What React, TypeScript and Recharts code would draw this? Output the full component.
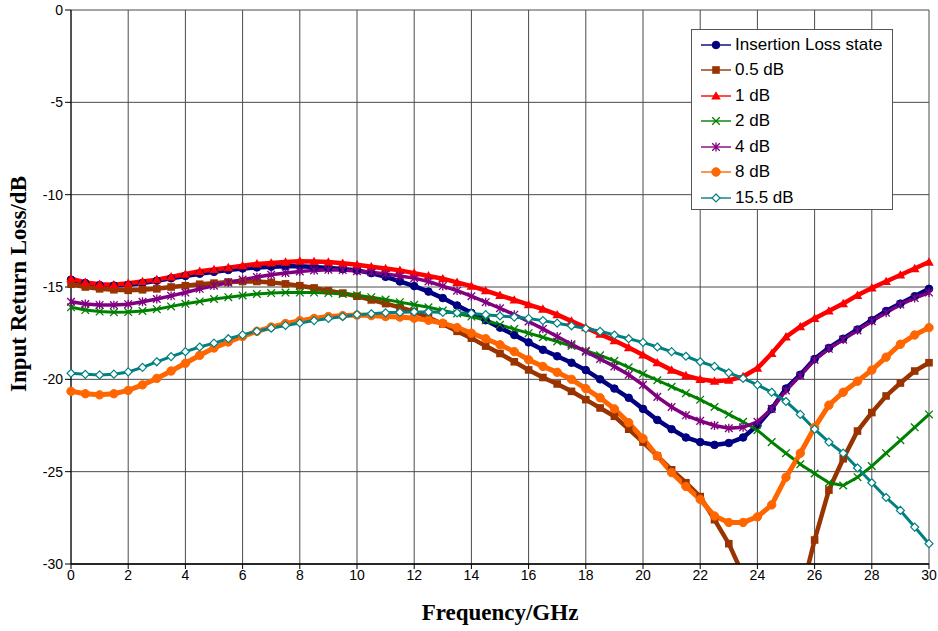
import React from 'react';
import { LineChart, Line, XAxis, YAxis, CartesianGrid, Legend } from 'recharts';

// frequency points, GHz
const freq = [
  0, 0.5, 1, 1.5, 2, 2.5, 3, 3.5, 4, 4.5,
  5, 5.5, 6, 6.5, 7, 7.5, 8, 8.5, 9, 9.5,
  10, 10.5, 11, 11.5, 12, 12.5, 13, 13.5, 14, 14.5,
  15, 15.5, 16, 16.5, 17, 17.5, 18, 18.5, 19, 19.5,
  20, 20.5, 21, 21.5, 22, 22.5, 23, 23.5, 24, 24.5,
  25, 25.5, 26, 26.5, 27, 27.5, 28, 28.5, 29, 29.5,
  30,
];

// input return loss, dB
const insertionLoss = [
  -14.6, -14.78, -14.9, -14.92, -14.88, -14.78, -14.66, -14.53, -14.4, -14.28,
  -14.18, -14.08, -14.0, -13.94, -13.9, -13.88, -13.88, -13.92, -13.97, -14.03,
  -14.1, -14.25, -14.45, -14.7, -14.95, -15.25, -15.6, -16.0, -16.4, -16.8,
  -17.2, -17.6, -18.0, -18.4, -18.75, -19.1, -19.5, -20.0, -20.5, -21.0,
  -21.6, -22.2, -22.7, -23.15, -23.4, -23.55, -23.45, -23.15, -22.5, -21.6,
  -20.5, -19.75, -18.9, -18.3, -17.8, -17.3, -16.8, -16.3, -15.9, -15.5,
  -15.1,
];
const att05 = [
  -14.85, -15.0, -15.1, -15.15, -15.18, -15.15, -15.1, -15.0, -14.93, -14.85,
  -14.79, -14.73, -14.7, -14.7, -14.75, -14.83, -14.93, -15.05, -15.2, -15.33,
  -15.5, -15.7, -15.9, -16.1, -16.33, -16.65, -17.0, -17.4, -17.77, -18.2,
  -18.6, -19.05, -19.49, -19.9, -20.25, -20.65, -21.1, -21.55, -22.0, -22.7,
  -23.4, -24.15, -24.9, -25.6, -26.35, -27.6, -28.9, -30.6, -33.5, -36,
  -35, -31.8, -28.7, -26.0, -24.3, -22.8, -21.8, -20.9, -20.2, -19.55,
  -19.1,
];
const att1 = [
  -14.55, -14.75, -14.85, -14.88, -14.8, -14.7, -14.6, -14.45, -14.3, -14.15,
  -14.05, -13.95, -13.85, -13.75, -13.7, -13.65, -13.6, -13.62, -13.65, -13.72,
  -13.8, -13.9, -14.0, -14.1, -14.25, -14.4, -14.55, -14.75, -14.95, -15.2,
  -15.45, -15.7, -15.95, -16.2, -16.5, -16.85, -17.2, -17.55, -17.9, -18.28,
  -18.68, -19.1, -19.5, -19.8, -20.0, -20.1, -20.05, -19.85, -19.4, -18.6,
  -17.7, -17.15, -16.7, -16.3, -15.9, -15.45, -15.05, -14.7, -14.35, -14.0,
  -13.65,
];
const att2 = [
  -16.1, -16.25, -16.33, -16.37, -16.36, -16.3, -16.2, -16.05, -15.91, -15.78,
  -15.65, -15.55, -15.46, -15.38, -15.33, -15.3, -15.3, -15.3, -15.33, -15.38,
  -15.45, -15.55, -15.68, -15.82, -15.96, -16.1, -16.27, -16.43, -16.6, -16.8,
  -17.05, -17.28, -17.5, -17.72, -17.95, -18.2, -18.45, -18.7, -19.0, -19.35,
  -19.7, -20.05, -20.4, -20.75, -21.1, -21.5, -21.9, -22.3, -22.75, -23.4,
  -24.0, -24.6, -25.1, -25.6, -25.75, -25.3, -24.7, -24.0, -23.3, -22.6,
  -21.9,
];
const att4 = [
  -15.8, -15.92, -15.97, -15.98, -15.93, -15.8, -15.65, -15.48, -15.3, -15.1,
  -14.93, -14.76, -14.6, -14.46, -14.34, -14.24, -14.16, -14.1, -14.07, -14.08,
  -14.14, -14.2, -14.3, -14.4, -14.52, -14.7, -14.95, -15.2, -15.5, -15.82,
  -16.15, -16.5, -16.87, -17.27, -17.68, -18.1, -18.5, -18.9, -19.3, -19.75,
  -20.3, -20.95, -21.5, -21.95, -22.25, -22.5, -22.65, -22.6, -22.3, -21.6,
  -20.6, -19.8, -18.95, -18.35, -17.85, -17.35, -16.85, -16.4, -15.95, -15.6,
  -15.3,
];
const att8 = [
  -20.65, -20.78, -20.84, -20.78, -20.6, -20.3, -19.95, -19.55, -19.13, -18.7,
  -18.3, -17.98, -17.68, -17.4, -17.17, -16.98, -16.82, -16.7, -16.6, -16.55,
  -16.52, -16.55, -16.6, -16.63, -16.69, -16.8, -16.96, -17.2, -17.5, -17.8,
  -18.13, -18.5, -18.94, -19.3, -19.62, -20.0, -20.5, -21.0, -21.6, -22.35,
  -23.2, -24.15, -25.05, -25.8, -26.5, -27.4, -27.75, -27.75, -27.45, -26.8,
  -25.3, -24.0, -22.6, -21.4, -20.7, -20.1, -19.5, -18.8, -18.1, -17.6,
  -17.2,
];
const att155 = [
  -19.67, -19.73, -19.76, -19.72, -19.6, -19.35, -19.05, -18.77, -18.5, -18.25,
  -18.04, -17.8, -17.59, -17.4, -17.23, -17.08, -16.95, -16.82, -16.7, -16.6,
  -16.5, -16.45, -16.4, -16.37, -16.35, -16.35, -16.37, -16.4, -16.43, -16.5,
  -16.57, -16.63, -16.7, -16.82, -16.96, -17.1, -17.25, -17.4, -17.6, -17.8,
  -18.0, -18.25, -18.5, -18.75, -19.05, -19.3, -19.65, -19.95, -20.3, -20.7,
  -21.2, -21.9, -22.7, -23.4, -24.0, -24.8, -25.6, -26.4, -27.1, -28.0,
  -28.9,
];

const xTicks = [0, 2, 4, 6, 8, 10, 12, 14, 16, 18, 20, 22, 24, 26, 28, 30];
const yTicks = [-30, -25, -20, -15, -10, -5, 0];

const seriesList = [
  { key: 'il', name: 'Insertion Loss state', color: '#000080', marker: 'circle', width: 4.5, values: insertionLoss },
  { key: 'a05', name: '0.5 dB', color: '#993300', marker: 'square', width: 4.5, values: att05 },
  { key: 'a1', name: '1 dB', color: '#FF0000', marker: 'triangle', width: 4.5, values: att1 },
  { key: 'a2', name: '2 dB', color: '#008000', marker: 'x', width: 3, values: att2 },
  { key: 'a4', name: '4 dB', color: '#800080', marker: 'star', width: 3.5, values: att4 },
  { key: 'a8', name: '8 dB', color: '#FF6600', marker: 'dot', width: 5, values: att8 },
  { key: 'a155', name: '15.5 dB', color: '#008080', marker: 'diamond', width: 3, values: att155 },
];

const chartData = freq.map((f, i) => {
  const row: any = { freq: f };
  seriesList.forEach((s) => {
    row[s.key] = s.values[i];
  });
  return row;
});

const Marker = ({ kind, color, cx, cy }: any) => {
  if (cx == null || cy == null || isNaN(cx) || isNaN(cy)) return null;
  switch (kind) {
    case 'circle':
      return <circle cx={cx} cy={cy} r={3.8} fill={color} stroke={color} />;
    case 'square':
      return <rect x={cx - 3.8} y={cy - 3.8} width={7.6} height={7.6} fill={color} />;
    case 'triangle':
      return <polygon points={`${cx},${cy - 4.8} ${cx + 4.8},${cy + 3.6} ${cx - 4.8},${cy + 3.6}`} fill={color} />;
    case 'x':
      return (
        <path
          d={`M${cx - 3.8},${cy - 3.8}L${cx + 3.8},${cy + 3.8}M${cx - 3.8},${cy + 3.8}L${cx + 3.8},${cy - 3.8}`}
          stroke={color}
          strokeWidth={1.3}
          fill="none"
        />
      );
    case 'star':
      return (
        <path
          d={`M${cx - 3.8},${cy - 3.8}L${cx + 3.8},${cy + 3.8}M${cx - 3.8},${cy + 3.8}L${cx + 3.8},${cy - 3.8}M${cx},${cy - 4.4}L${cx},${cy + 4.4}`}
          stroke={color}
          strokeWidth={1.3}
          fill="none"
        />
      );
    case 'dot':
      return <circle cx={cx} cy={cy} r={4.2} fill={color} stroke={color} />;
    case 'diamond':
      return (
        <polygon
          points={`${cx},${cy - 4} ${cx + 4},${cy} ${cx},${cy + 4} ${cx - 4},${cy}`}
          fill="#fff"
          stroke={color}
          strokeWidth={1.2}
        />
      );
    default:
      return null;
  }
};

const LegendBox = () => (
  <div
    style={{
      border: '1px solid #555',
      background: '#fff',
      width: 202,
      height: 181,
      boxSizing: 'border-box',
      paddingTop: 2,
    }}
  >
    {seriesList.map((s) => (
      <div key={s.key} style={{ display: 'flex', alignItems: 'center', height: 25.5 }}>
        <svg width={43} height={14} style={{ display: 'block' }}>
          <line x1={9} x2={39} y1={7} y2={7} stroke={s.color} strokeWidth={1.4} />
          <Marker kind={s.marker} color={s.color} cx={24} cy={7} />
        </svg>
        <span style={{ fontFamily: '"Liberation Sans", Arial, sans-serif', fontSize: 17, color: '#000', whiteSpace: 'nowrap' }}>
          {s.name}
        </span>
      </div>
    ))}
  </div>
);

const XTitle = () => (
  <text x={500} y={620} textAnchor="middle" fontFamily='"Liberation Serif", "Times New Roman", serif' fontWeight="bold" fontSize={23} fill="#000">
    Frequency/GHz
  </text>
);

const YTitle = () => (
  <text
    x={26}
    y={284}
    transform="rotate(-90 26 284)"
    textAnchor="middle"
    fontFamily='"Liberation Serif", "Times New Roman", serif'
    fontWeight="bold"
    fontSize={23}
    fill="#000"
  >
    Input Return Loss/dB
  </text>
);

const tickStyle = { fontSize: 14, fill: '#000', fontFamily: '"Liberation Sans", Arial, sans-serif' };

export default function App() {
  return (
    <div style={{ position: 'absolute', left: 0, top: 0, background: '#fff' }}>
      <LineChart width={938} height={631} data={chartData} margin={{ top: 10, right: 9, left: 31, bottom: 0 }}>
        <CartesianGrid stroke="#4a4a4a" strokeWidth={1} />
        <XAxis
          dataKey="freq"
          type="number"
          domain={[0, 30]}
          ticks={xTicks}
          interval={0}
          height={67}
          tickSize={5}
          tickMargin={1}
          tick={tickStyle}
          axisLine={{ stroke: '#000', strokeWidth: 1.5 }}
          tickLine={{ stroke: '#000' }}
          label={<XTitle />}
        />
        <YAxis
          type="number"
          domain={[-30, 0]}
          ticks={yTicks}
          interval={0}
          width={40}
          allowDataOverflow
          tickSize={6}
          tickMargin={2}
          tick={tickStyle}
          axisLine={{ stroke: '#000' }}
          tickLine={{ stroke: '#000' }}
          label={<YTitle />}
        />
        <Legend
          layout="vertical"
          align="center"
          verticalAlign="middle"
          content={<LegendBox />}
          wrapperStyle={{ position: 'absolute', left: 691, top: 29, width: 202, height: 181 }}
        />
        {seriesList.map((s) => (
          <Line
            key={s.key}
            type="linear"
            dataKey={s.key}
            name={s.name}
            stroke={s.color}
            strokeWidth={s.width}
            isAnimationActive={false}
            activeDot={false}
            dot={(p: any) => <Marker key={`${s.key}-${p.index}`} kind={s.marker} color={s.color} cx={p.cx} cy={p.cy} />}
          />
        ))}
      </LineChart>
    </div>
  );
}
